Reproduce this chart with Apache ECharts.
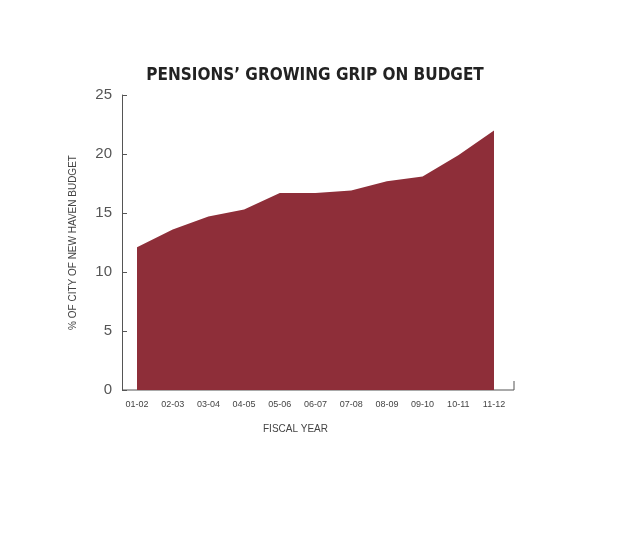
<!DOCTYPE html><html><head><meta charset="utf-8">
<script src="https://cdn.jsdelivr.net/npm/echarts@6/dist/echarts.min.js"></script>
<style>body{margin:0;background:#fff}#c{width:630px;height:533px}</style></head><body><div id="c"></div><script>
const categories=['01-02','02-03','03-04','04-05','05-06','06-07','07-08','08-09','09-10','10-11','11-12'];
const values=[12.1,13.6,14.7,15.3,16.7,16.7,16.9,17.7,18.1,19.9,22.0];
const yTicks=[0,5,10,15,20,25];
const ch=echarts.init(document.getElementById('c'));
ch.setOption({
 animation:false,
 title:{text:'PENSIONS\u2019 GROWING GRIP ON BUDGET',left:'center',top:62,textStyle:{fontFamily:'DejaVu Sans Condensed',fontWeight:'bold',fontSize:17,color:'#222'}},
 grid:{left:137,right:136,top:95,bottom:143},
 xAxis:{type:'category',data:categories,boundaryGap:false,axisLine:{show:false},axisTick:{show:false},
  axisLabel:{fontSize:9,color:'#444',margin:10,fontFamily:'Liberation Sans'},
  name:'FISCAL YEAR',nameLocation:'middle',nameGap:34,nameTextStyle:{fontSize:10,color:'#444',padding:[0,40,0,0]}},
 yAxis:{type:'value',min:0,max:25,interval:5,offset:15,splitLine:{show:false},
  axisLine:{show:true,lineStyle:{color:'#555'}},axisTick:{show:true,inside:true,length:5,lineStyle:{color:'#555'}},
  axisLabel:{fontSize:15,color:'#555',margin:10,formatter:v=>yTicks.includes(v)?String(v):''},
  name:'% OF CITY OF NEW HAVEN BUDGET',nameLocation:'middle',nameGap:44,nameTextStyle:{fontSize:10,color:'#444'}},
 graphic:[{type:'line',shape:{x1:122,y1:390,x2:514,y2:390},style:{stroke:'#555',lineWidth:1}},
  {type:'line',shape:{x1:514,y1:390,x2:514,y2:381},style:{stroke:'#555',lineWidth:1}}],
 series:[{type:'line',data:values,symbol:'none',lineStyle:{width:0},areaStyle:{color:'#8E2E39',opacity:1}}]
});
</script></body></html>
